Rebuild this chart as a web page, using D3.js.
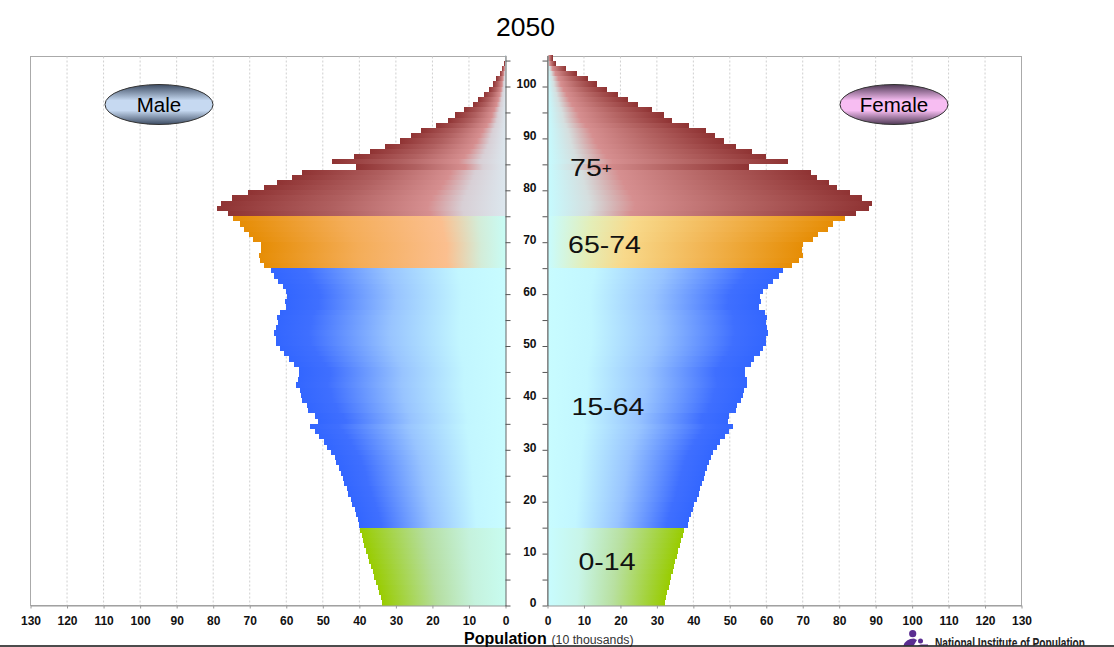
<!DOCTYPE html>
<html>
<head>
<meta charset="utf-8">
<script src="https://cdn.jsdelivr.net/npm/d3@7"></script>
<style>
html, body { margin: 0; padding: 0; background: #fff; overflow: hidden; }
svg { display: block; font-family: "Liberation Sans", Arial, sans-serif; }
.tick text { font-weight: bold; font-size: 12px; fill: #111; }
</style>
</head>
<body>
<div id="chart"></div>
<script>
// population by single year of age, 0 to 105 (10 thousands)
const maleValues = [
    33.7, 34.2, 34.6, 35, 35.5, 36, 36.4, 36.8, 37.3, 37.7, 38.1, 38.6, 39, 39.4, 39.8,
    40, 40.4, 40.8, 41.3, 41.9, 42.4, 43.1, 43.5, 44.3, 44.6, 45, 45.5, 46.3, 46.8, 47.8, 48.8, 49.7,
    51, 52.2, 53.6, 51.4, 52.2, 54.1, 54.4, 55.7, 56, 56.3, 57.3, 56.8, 56.4, 56.5, 58, 59.3, 60.7, 61.6,
    62.9, 62.9, 63.4, 62.7, 62.3, 62.5, 61.6, 60.2, 60.3, 59.7, 60.2, 60.9, 62.3, 63.4, 64.3,
    66, 67.3, 67.6, 67, 67, 69, 70.2, 71.6, 72.6, 74.6,
    76, 79, 78, 74.8, 70.4, 66, 62.6, 58.5, 55.7, 41, 47.5, 41.5, 37, 33, 29, 26, 23, 19, 15.8, 13.7,
    11.4, 9, 7.5, 6, 4.5, 3.5, 2.5, 1.6, 1, 0.3, 0.2
];
const femaleValues = [
    32.3, 32.6, 32.9, 33.2, 33.5, 33.9, 34.3, 34.7, 35.1, 35.5, 35.9, 36.3, 36.7, 37.1, 37.5,
    38.4, 38.9, 39.3, 39.9, 40.2, 41, 41.5, 41.9, 42.4, 42.8, 43.2, 43.7, 44.2, 44.8, 45.5, 46.5, 47.4,
    48.7, 49.8, 50.9, 49.4, 49.8, 51.8, 52.1, 53.2, 53.5, 53.9, 54.8, 54.6, 54.2, 54.2, 55.9, 56.7, 58.3, 59,
    59.9, 59.9, 60.5, 60.3, 59.9, 60.2, 59.6, 58, 58.5, 58.3, 59.2, 60.4, 61.9, 63.4, 64.5,
    67.1, 69, 70, 69.8, 70.2, 72.9, 74.3, 77, 78.4, 81.5,
    84.5, 88.1, 89, 86.2, 83, 79.5, 77.1, 73.9, 72.3, 55.3, 66, 59.9, 56.2, 51.8, 48.5, 45.9, 43.4, 38.8, 34.1, 31.9,
    28.7, 24.8, 22, 19.3, 16.3, 13.5, 11, 8, 5.2, 2.2, 1.4
];
const groupNames = ["0-14", "15-64", "65-74", "75+"];
const groupStarts = [0, 15, 65, 75];
const popTicks = [0, 10, 20, 30, 40, 50, 60, 70, 80, 90, 100, 110, 120, 130];
const ageTicks = [0, 5, 10, 15, 20, 25, 30, 35, 40, 45, 50, 55, 60, 65, 70, 75, 80, 85, 90, 95, 100, 105];

const width = 1114, height = 647;
const panelTop = 56.5, panelBottom = 605.5;
const maxAge = 106;

const svg = d3.select("#chart").append("svg")
    .attr("width", width)
    .attr("height", height);
const defs = svg.append("defs");

const xMale = d3.scaleLinear().domain([0, 130]).range([505.5, 30.5]);
const xFemale = d3.scaleLinear().domain([0, 130]).range([547.5, 1021.5]);
const yAge = d3.scaleLinear().domain([0, 100]).range([panelBottom, 86.5]);

// gradient stops: offset 0 is the base of a bar, 1 its outer end
const maleStops = [
    [[0, "#c8fcf0"], [.25, "#c5f2dd"], [.55, "#b5dea0"], [.85, "#a2d235"], [1, "#99cc00"]],
    [[0, "#c8fcff"], [.2, "#c2f6ff"], [.5, "#98c4ff"], [.85, "#3f6fff"], [1, "#3366ff"]],
    [[0, "#c8fcf5"], [.1, "#d3ecd8"], [.24, "#fbbf8f"], [.6, "#f4ad58"], [1, "#e68d05"]],
    [[0, "#dce7ee"], [.15, "#d8cfd5"], [.27, "#d68f90"], [.6, "#b06060"], [1, "#8f3333"]]
];
const femaleStops = [
    [[0, "#c8fcff"], [.25, "#c8f5e8"], [.55, "#b8e0a0"], [.85, "#a2d235"], [1, "#99cc00"]],
    [[0, "#c8fcff"], [.2, "#c2f6ff"], [.5, "#98c4ff"], [.85, "#3f6fff"], [1, "#3366ff"]],
    [[0, "#c8fcff"], [.15, "#e4eeb8"], [.3, "#f8d98b"], [.6, "#f2b655"], [1, "#e68d05"]],
    [[0, "#c6fbff"], [.13, "#d5dede"], [.27, "#d68f90"], [.6, "#b46463"], [1, "#8f3333"]]
];

function addGradient(id, stops, flip) {
    const grad = defs.append("linearGradient")
        .attr("id", id)
        .attr("x1", flip ? 1 : 0).attr("x2", flip ? 0 : 1)
        .attr("y1", 0).attr("y2", 0);
    stops.forEach(s => grad.append("stop").attr("offset", s[0]).attr("stop-color", s[1]));
}
groupNames.forEach((g, i) => {
    addGradient("m" + i, maleStops[i], true);
    addGradient("f" + i, femaleStops[i], false);
});

function getGroup(age) {
    return d3.bisectRight(groupStarts, age) - 1;
}

// panels
function drawPanel(x, side) {
    const panel = svg.append("g");
    const [a, b] = x.range();
    panel.append("rect")
        .attr("x", Math.min(a, b)).attr("y", panelTop)
        .attr("width", Math.abs(b - a)).attr("height", panelBottom - panelTop)
        .attr("fill", "#fff").attr("stroke", "#aaa");
    panel.selectAll("line.grid")
        .data(popTicks.slice(1, -1))
        .join("line")
        .attr("class", "grid")
        .attr("x1", d => x(d)).attr("x2", d => x(d))
        .attr("y1", panelTop).attr("y2", panelBottom)
        .attr("stroke", "#cfcfcf")
        .attr("stroke-dasharray", "2,2");

    const values = side === "m" ? maleValues : femaleValues;
    panel.append("g")
        .selectAll("rect")
        .data(values)
        .join("rect")
        .attr("x", d => Math.min(x(0), x(d)))
        .attr("width", d => Math.abs(x(d) - x(0)))
        .attr("y", (d, i) => yAge(i + 1))
        .attr("height", (d, i) => yAge(i) - yAge(i + 1))
        .attr("shape-rendering", "crispEdges")
        .attr("fill", (d, i) => `url(#${side}${getGroup(i)})`);

    const axis = panel.append("g")
        .attr("transform", `translate(0,${panelBottom})`)
        .call(d3.axisBottom(x).tickValues(popTicks).tickSize(3).tickSizeOuter(0).tickPadding(8));
    axis.select(".domain").attr("stroke", "#999");
    axis.selectAll(".tick line").attr("stroke", "#999");
}
drawPanel(xMale, "m");
drawPanel(xFemale, "f");

// age axes in the middle
const yRange = yAge.copy().domain([0, maxAge]).range([panelBottom, yAge(maxAge)]);
const axisA = svg.append("g")
    .attr("transform", `translate(${xMale(0)},0)`)
    .call(d3.axisRight(yRange).tickValues(ageTicks).tickSize(5).tickSizeOuter(0).tickFormat(""));
const axisB = svg.append("g")
    .attr("transform", `translate(${xFemale(0)},0)`)
    .call(d3.axisLeft(yRange).tickValues(ageTicks).tickSize(5).tickSizeOuter(0).tickPadding(6)
        .tickFormat(d => d % 10 === 0 ? d : ""));
axisB.selectAll(".tick text").attr("dy", "0.12em");
[axisA, axisB].forEach(a => {
    a.select(".domain").attr("stroke", "#666");
    a.selectAll(".tick line").attr("stroke", "#555");
});

// title
svg.append("text")
    .attr("x", 525.5).attr("y", 35.5)
    .attr("text-anchor", "middle")
    .attr("font-size", 26.5)
    .attr("fill", "#000")
    .text("2050");

// Male / Female badges
function addBadge(id, cx, label, dark, light) {
    const grad = defs.append("linearGradient")
        .attr("id", id).attr("x1", 0).attr("x2", 0).attr("y1", 0).attr("y2", 1);
    [[0, dark], [.4, light], [.65, light], [1, dark]].forEach(s =>
        grad.append("stop").attr("offset", s[0]).attr("stop-color", s[1]));
    svg.append("ellipse")
        .attr("cx", cx).attr("cy", 104.5)
        .attr("rx", 54).attr("ry", 20)
        .attr("fill", `url(#${id})`)
        .attr("stroke", "#333");
    svg.append("text")
        .attr("x", cx).attr("y", 111.5)
        .attr("text-anchor", "middle")
        .attr("font-size", 20.5)
        .attr("fill", "#000")
        .text(label);
}
addBadge("badgeMale", 159, "Male", "#3d4c63", "#c6d9f1");
addBadge("badgeFemale", 894, "Female", "#4f3a55", "#f7bdf2");

// age group labels, drawn wide like the original
const groupLabelY = [570, 415, 253, 176];
const groupLabelX = [607, 608, 604.5, 591];
groupNames.forEach((g, i) => {
    const label = svg.append("text")
        .attr("transform", `translate(${groupLabelX[i]},${groupLabelY[i]}) scale(1.24,1)`)
        .attr("text-anchor", "middle")
        .attr("font-size", 23)
        .attr("fill", "#111");
    if (g.endsWith("+")) {
        label.append("tspan").text(g.slice(0, -1));
        label.append("tspan").attr("font-size", 14).attr("dy", -3).text("+");
    } else {
        label.text(g);
    }
});

// x axis title
svg.append("text")
    .attr("x", 464).attr("y", 643.5)
    .attr("font-size", 16).attr("font-weight", "bold")
    .attr("fill", "#000")
    .text("Population");
svg.append("text")
    .attr("x", 551.5).attr("y", 643.5)
    .attr("font-size", 12.3)
    .attr("fill", "#333")
    .text("(10 thousands)");

// logo, cut off at the bottom of the page in the reference
defs.append("clipPath").attr("id", "logoClip")
    .append("rect").attr("x", 890).attr("y", 622).attr("width", 224).attr("height", 23.5);
const logo = svg.append("g").attr("clip-path", "url(#logoClip)");
logo.append("circle").attr("cx", 912.7).attr("cy", 633.7).attr("r", 3.6).attr("fill", "#5a2d91");
logo.append("path").attr("d", "M903 647 Q905 638.5 914 638.5 L917 640 L911 650 Z").attr("fill", "#5a2d91");
logo.append("circle").attr("cx", 920.5).attr("cy", 641).attr("r", 2.5).attr("fill", "#5a2d91");
logo.append("path").attr("d", "M916 650 Q917 644.5 921 644.5 L928 644.5 L929 650 Z").attr("fill", "#5a2d91");
logo.append("text")
    .attr("x", 935).attr("y", 648)
    .attr("font-size", 15).attr("font-weight", "bold")
    .attr("fill", "#222")
    .attr("textLength", 150)
    .attr("lengthAdjust", "spacingAndGlyphs")
    .text("National Institute of Population");

svg.append("line")
    .attr("x1", 0).attr("x2", width)
    .attr("y1", 646).attr("y2", 646)
    .attr("stroke", "#111")
    .attr("stroke-width", 1.5);
</script>
</body>
</html>
